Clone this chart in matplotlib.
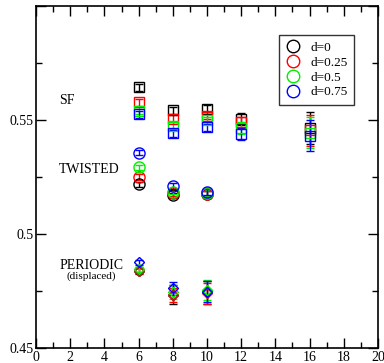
import numpy as np
import matplotlib.pyplot as plt
from matplotlib.ticker import MultipleLocator, FixedLocator, FixedFormatter

plt.rcParams['font.family'] = ['Liberation Serif', 'DejaVu Serif']

labels = ['d=0', 'd=0.25', 'd=0.5', 'd=0.75']
colors = ['black', 'red', '#00ee00', 'blue']

# SF (squares)
sf_x = [6, 8, 10, 12, 16]
sf_y = [
    [0.5645, 0.5544, 0.5551, 0.5505, 0.5466],
    [0.5579, 0.5507, 0.5519, 0.5490, 0.5455],
    [0.5541, 0.5475, 0.5500, 0.5465, 0.5444],
    [0.5526, 0.5442, 0.5468, 0.5440, 0.5432],
]
sf_err = [
    [0.0015, 0.0015, 0.0015, 0.0025, 0.0070],
    [0.0015, 0.0015, 0.0015, 0.0025, 0.0069],
    [0.0015, 0.0015, 0.0015, 0.0025, 0.0068],
    [0.0015, 0.0015, 0.0015, 0.0025, 0.0068],
]

# TWISTED (circles)
tw_x = [6, 8, 10]
tw_y = [
    [0.5218, 0.5170, 0.5178],
    [0.5251, 0.5180, 0.5176],
    [0.5293, 0.5186, 0.5180],
    [0.5358, 0.5212, 0.5184],
]
tw_err = [
    [0.0012, 0.0012, 0.0012],
    [0.0012, 0.0012, 0.0012],
    [0.0012, 0.0012, 0.0012],
    [0.0012, 0.0012, 0.0012],
]

# PERIODIC (diamonds)
pe_x = [6, 8, 10]
pe_y = [
    [0.4838, 0.4735, 0.4745],
    [0.4840, 0.4732, 0.4740],
    [0.4845, 0.4747, 0.4755],
    [0.4876, 0.4762, 0.4748],
]
pe_err = [
    [0.0012, 0.0040, 0.0050],
    [0.0012, 0.0030, 0.0045],
    [0.0012, 0.0030, 0.0045],
    [0.0012, 0.0030, 0.0045],
]

fig = plt.figure(figsize=(3.84, 3.63), dpi=100)
ax = fig.add_axes([0.094, 0.041, 0.890, 0.942])

for i in range(4):
    kw = dict(color=colors[i], mfc='none', mec=colors[i], ls='none',
              elinewidth=1, capsize=3, capthick=1, mew=1)
    ax.errorbar(sf_x, sf_y[i], yerr=sf_err[i], marker='s', ms=7, **kw)
    ax.errorbar(tw_x, tw_y[i], yerr=tw_err[i], marker='o', ms=8, **kw)
    ax.errorbar(pe_x, pe_y[i], yerr=pe_err[i], marker='D', ms=5, **kw)

# legend handles (circles only)
handles = [ax.plot([], [], marker='o', ls='none', mfc='none', mec=c, ms=9, mew=1)[0]
           for c in colors]
leg = ax.legend(handles, labels, loc='upper left', bbox_to_anchor=(0.69, 0.935),
                fontsize=9.5, frameon=True, fancybox=False, edgecolor='black',
                handletextpad=0.7, labelspacing=0.2, borderpad=0.5, handlelength=1.2)
leg.get_frame().set_linewidth(1.0)

ax.text(1.35, 0.5585, 'SF', fontsize=10, va='center', ha='left')
ax.text(1.35, 0.5282, 'TWISTED', fontsize=10, va='center', ha='left')
ax.text(1.35, 0.4862, 'PERIODIC', fontsize=10, va='center', ha='left')
ax.text(3.2, 0.4815, '(displaced)', fontsize=8, va='center', ha='center')

ax.set_xlim(0, 20)
ax.set_ylim(0.45, 0.60)
ax.xaxis.set_major_locator(MultipleLocator(2))
ax.xaxis.set_minor_locator(MultipleLocator(1))
ax.yaxis.set_major_locator(FixedLocator([0.45, 0.5, 0.55, 0.6]))
ax.yaxis.set_major_formatter(FixedFormatter(['0.45', '0.5', '0.55', '']))
ax.yaxis.set_minor_locator(MultipleLocator(0.025))
ax.tick_params(which='both', direction='in', top=True, right=True, labelsize=10, width=1)
ax.tick_params(which='major', length=7, pad=2)
ax.tick_params(which='minor', length=4)
for s in ax.spines.values():
    s.set_linewidth(1.2)

fig.savefig('out.png', dpi=100)
